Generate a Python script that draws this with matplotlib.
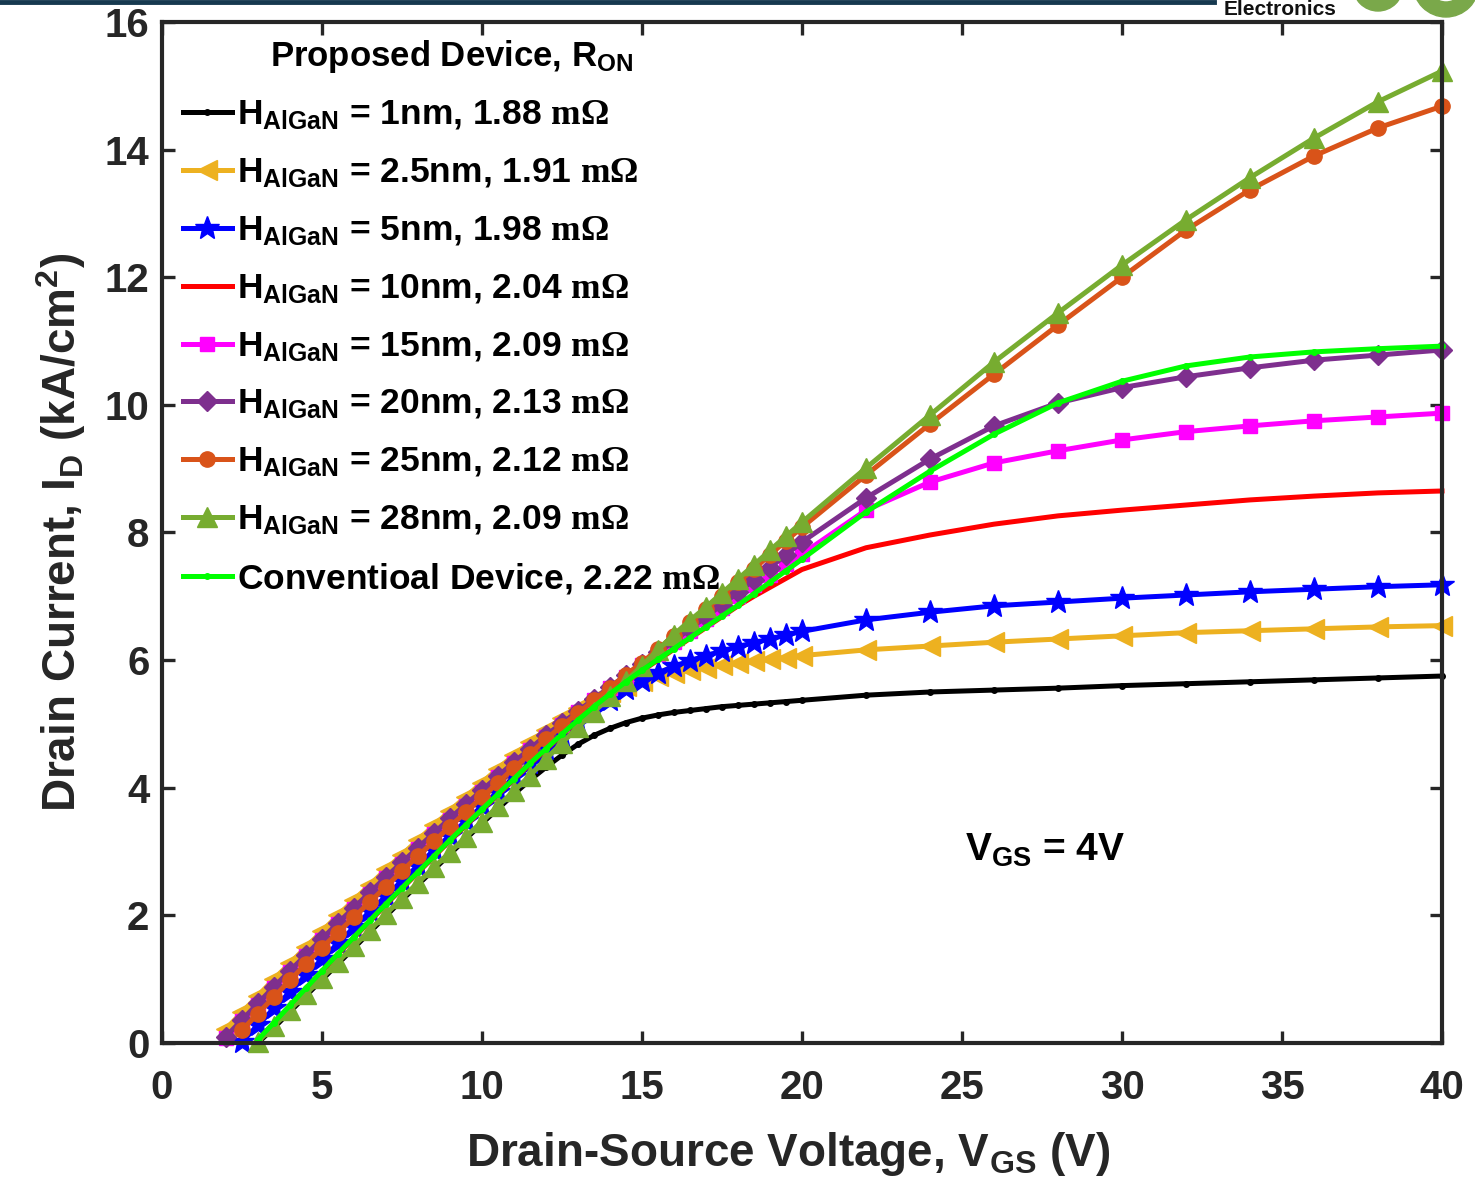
import numpy as np
import matplotlib
matplotlib.use("Agg")
import matplotlib.pyplot as plt
from matplotlib.patches import Wedge
from matplotlib.transforms import IdentityTransform

plt.rcParams.update({
    "font.family": ["Liberation Sans", "DejaVu Sans"],
    "font.weight": "bold",
    "axes.labelweight": "bold",
    "mathtext.fontset": "custom",
    "mathtext.rm": "Liberation Sans:bold",
    "mathtext.bf": "Liberation Sans:bold",
    "mathtext.it": "Liberation Sans:bold",
    "mathtext.sf": "Liberation Serif:bold",
    "mathtext.default": "regular",
})

nan = float("nan")

# Drain-source voltage sweep (V)
vds = [2.0, 2.5, 3.0, 3.5, 4.0, 4.5, 5.0, 5.5, 6.0, 6.5, 7.0, 7.5, 8.0, 8.5,
       9.0, 9.5, 10.0, 10.5, 11.0, 11.5, 12.0, 12.5, 13.0, 13.5, 14.0, 14.5,
       15.0, 15.5, 16.0, 16.5, 17.0, 17.5, 18.0, 18.5, 19.0, 19.5, 20.0,
       22, 24, 26, 28, 30, 32, 34, 36, 38, 40]

# Drain current (kA/cm^2) for each AlGaN thickness
id_1nm = [nan, nan, 0.00, 0.24, 0.49, 0.74, 0.99, 1.24, 1.49, 1.74, 1.99, 2.24,
          2.48, 2.72, 2.96, 3.20, 3.44, 3.67, 3.90, 4.12, 4.32, 4.51, 4.68, 4.82,
          4.93, 5.02, 5.09, 5.14, 5.18, 5.21, 5.24, 5.27, 5.29, 5.31, 5.33, 5.35,
          5.37, 5.45, 5.50, 5.53, 5.56, 5.60, 5.63, 5.66, 5.69, 5.72, 5.75]
id_2p5nm = [0.22, 0.48, 0.74, 1.00, 1.25, 1.50, 1.75, 2.00, 2.24, 2.48, 2.72, 2.95,
            3.18, 3.41, 3.64, 3.86, 4.08, 4.30, 4.51, 4.71, 4.91, 5.09, 5.25, 5.39,
            5.50, 5.60, 5.68, 5.75, 5.80, 5.84, 5.88, 5.92, 5.95, 5.98, 6.01, 6.04,
            6.07, 6.16, 6.22, 6.28, 6.33, 6.38, 6.43, 6.46, 6.49, 6.52, 6.54]
id_5nm = [nan, 0.02, 0.28, 0.54, 0.80, 1.06, 1.31, 1.56, 1.81, 2.06, 2.30, 2.54,
          2.78, 3.02, 3.25, 3.48, 3.71, 3.94, 4.16, 4.38, 4.60, 4.81, 5.01, 5.20,
          5.38, 5.54, 5.68, 5.80, 5.90, 5.99, 6.07, 6.14, 6.21, 6.27, 6.33, 6.39,
          6.45, 6.63, 6.75, 6.85, 6.91, 6.97, 7.02, 7.07, 7.11, 7.15, 7.18]
id_10nm = [nan, nan, 0.04, 0.31, 0.58, 0.85, 1.12, 1.39, 1.65, 1.91, 2.17, 2.42,
           2.67, 2.92, 3.17, 3.41, 3.65, 3.89, 4.13, 4.37, 4.60, 4.83, 5.05, 5.26,
           5.46, 5.65, 5.83, 6.00, 6.17, 6.34, 6.51, 6.68, 6.85, 7.00, 7.14, 7.28,
           7.42, 7.76, 7.96, 8.13, 8.26, 8.35, 8.43, 8.51, 8.57, 8.62, 8.65]
id_15nm = [0.08, 0.34, 0.60, 0.86, 1.11, 1.36, 1.61, 1.86, 2.10, 2.34, 2.58, 2.81,
           3.04, 3.27, 3.50, 3.72, 3.94, 4.16, 4.38, 4.59, 4.80, 4.99, 5.18, 5.37,
           5.56, 5.74, 5.92, 6.10, 6.28, 6.46, 6.64, 6.82, 7.00, 7.17, 7.34, 7.50,
           7.66, 8.35, 8.79, 9.09, 9.28, 9.45, 9.58, 9.67, 9.75, 9.81, 9.87]
id_20nm = [0.10, 0.36, 0.62, 0.88, 1.13, 1.38, 1.63, 1.88, 2.12, 2.36, 2.60, 2.83,
           3.06, 3.29, 3.52, 3.74, 3.96, 4.18, 4.40, 4.61, 4.82, 5.01, 5.20, 5.39,
           5.58, 5.76, 5.94, 6.12, 6.30, 6.49, 6.68, 6.87, 7.06, 7.26, 7.45, 7.65,
           7.85, 8.54, 9.15, 9.67, 10.03, 10.27, 10.44, 10.58, 10.70, 10.78, 10.86]
id_25nm = [nan, 0.20, 0.46, 0.72, 0.98, 1.24, 1.49, 1.73, 1.97, 2.21, 2.45, 2.69,
           2.93, 3.16, 3.39, 3.62, 3.85, 4.08, 4.31, 4.53, 4.76, 4.97, 5.17, 5.37,
           5.57, 5.77, 5.96, 6.17, 6.38, 6.59, 6.80, 7.01, 7.22, 7.43, 7.65, 7.87,
           8.08, 8.90, 9.70, 10.48, 11.25, 12.00, 12.74, 13.37, 13.90, 14.34, 14.68]
id_28nm = [nan, nan, 0.02, 0.27, 0.52, 0.77, 1.02, 1.27, 1.52, 1.77, 2.02, 2.27,
           2.51, 2.75, 2.99, 3.23, 3.47, 3.71, 3.95, 4.19, 4.45, 4.70, 4.95, 5.19,
           5.43, 5.67, 5.91, 6.16, 6.40, 6.62, 6.83, 7.05, 7.27, 7.49, 7.72, 7.94,
           8.16, 9.01, 9.84, 10.67, 11.44, 12.19, 12.90, 13.56, 14.18, 14.75, 15.23]
id_conv = [nan, nan, 0.05, 0.32, 0.59, 0.86, 1.13, 1.40, 1.66, 1.92, 2.18, 2.43,
           2.68, 2.93, 3.18, 3.42, 3.66, 3.90, 4.14, 4.38, 4.61, 4.84, 5.06, 5.27,
           5.47, 5.66, 5.84, 6.01, 6.18, 6.35, 6.52, 6.69, 6.86, 7.04, 7.22, 7.40,
           7.58, 8.32, 8.96, 9.54, 10.03, 10.37, 10.61, 10.75, 10.83, 10.88, 10.92]

labels = [
    r"$H_{AlGaN}$ = 1nm, 1.88 $\mathsf{m\Omega}$",
    r"$H_{AlGaN}$ = 2.5nm, 1.91 $\mathsf{m\Omega}$",
    r"$H_{AlGaN}$ = 5nm, 1.98 $\mathsf{m\Omega}$",
    r"$H_{AlGaN}$ = 10nm, 2.04 $\mathsf{m\Omega}$",
    r"$H_{AlGaN}$ = 15nm, 2.09 $\mathsf{m\Omega}$",
    r"$H_{AlGaN}$ = 20nm, 2.13 $\mathsf{m\Omega}$",
    r"$H_{AlGaN}$ = 25nm, 2.12 $\mathsf{m\Omega}$",
    r"$H_{AlGaN}$ = 28nm, 2.09 $\mathsf{m\Omega}$",
    r"Conventioal Device, 2.22 $\mathsf{m\Omega}$",
]

series = [id_1nm, id_2p5nm, id_5nm, id_10nm, id_15nm, id_20nm, id_25nm,
          id_28nm, id_conv]
styles = [
    dict(color="#000000", marker=".", ms=8),
    dict(color="#EDB120", marker="<", ms=15),
    dict(color="#0000FF", marker="*", ms=18),
    dict(color="#FF0000", marker=None, ms=0),
    dict(color="#FF00FF", marker="s", ms=10),
    dict(color="#7E2F8E", marker="D", ms=10),
    dict(color="#D95319", marker="o", ms=11),
    dict(color="#77AC30", marker="^", ms=15),
    dict(color="#00FF00", marker=".", ms=8),
]

fig = plt.figure(figsize=(14.75, 11.88), dpi=100)
ax = fig.add_axes([0.1098, 0.1221, 0.8678, 0.8594])

x = np.array(vds)
for ys, st, lab in zip(series, styles, labels):
    ax.plot(x, np.array(ys), color=st["color"], marker=st["marker"],
            markersize=st["ms"], linewidth=3.6, label=lab, clip_on=False,
            zorder=3)

ax.set_xlim(0, 40)
ax.set_ylim(0, 16)
ax.set_xticks(np.arange(0, 41, 5))
ax.set_yticks(np.arange(0, 17, 2))

axis_color = "#262626"
for sp in ax.spines.values():
    sp.set_linewidth(3.0)
    sp.set_color(axis_color)
    sp.set_zorder(5)
ax.tick_params(direction="in", length=9, width=2.4, top=True, right=True,
               labelsize=29, colors=axis_color, labelcolor=axis_color)
ax.tick_params(axis="x", pad=19)
ax.tick_params(axis="y", pad=9)
for lbl in ax.get_xticklabels() + ax.get_yticklabels():
    lbl.set_fontweight("bold")

ax.set_xlabel(r"Drain-Source Voltage, $V_{GS}$ (V)", fontsize=33,
              color=axis_color, labelpad=16, x=0.489)
ax.set_ylabel(r"Drain Current, $I_{D}$ (kA/cm$^{2}$)", fontsize=33,
              color=axis_color, labelpad=12)

leg = ax.legend(loc="upper left", bbox_to_anchor=(0.0078, 0.995),
                frameon=False, fontsize=25.5,
                title=r"Proposed Device, $R_{ON}$",
                title_fontproperties={"size": 25, "weight": "bold"},
                handlelength=1.4, handletextpad=0.15, labelspacing=0.68,
                borderaxespad=0.0, borderpad=0.3)
for t in leg.get_texts():
    t.set_fontweight("bold")

ax.text(25.1, 2.85, r"$V_{GS}$ = 4V", fontsize=28, fontweight="bold",
        color="black")

# Page header remnants along the top edge
fig.add_artist(plt.Line2D([0.0, 0.823], [0.9985, 0.9985], color="#16394f",
                          linewidth=3.5, transform=fig.transFigure))
fig.text(0.868, 1.0, "Electronics", fontsize=15, fontweight="bold",
         color="#111111", ha="center", va="top")
H = 1188
for cx, cy, r, w in [(1378, H + 14, 25, 14), (1446, H + 16, 33, 15)]:
    fig.add_artist(Wedge((cx, cy), r, 180, 360, width=w, color="#7aa84a",
                         transform=IdentityTransform()))

fig.savefig("out.png", dpi=100)
